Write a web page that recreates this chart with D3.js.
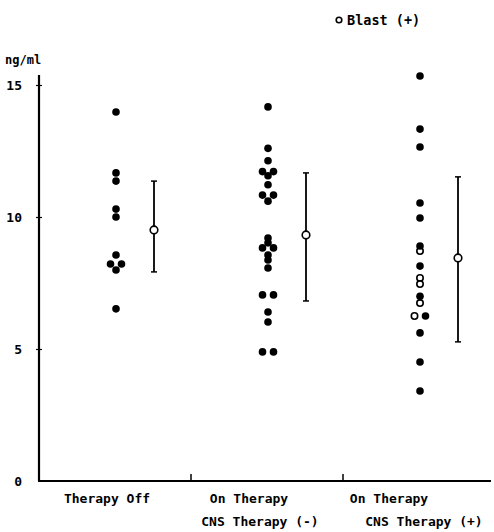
<!DOCTYPE html>
<html>
<head>
<meta charset="utf-8">
<script src="https://cdn.jsdelivr.net/npm/d3@7"></script>
<style>
  body { margin: 0; background: #fff; }
  text { font-family: "DejaVu Sans Mono", monospace; font-weight: bold; fill: #000; }
</style>
</head>
<body>
<svg width="494" height="532"></svg>
<script>
// categories on the x axis, with the label lines printed under each
var categories = ["off", "cnsNeg", "cnsPos"];
var labelLines = [["Therapy Off"], ["On Therapy", "CNS Therapy (-)"], ["On Therapy", "CNS Therapy (+)"]];
var yTicks = [0, 5, 10, 15];

// individual values (ng/ml), filled dots
var offValues = [13.98, 11.67, 11.36, 10.3, 10.0, 8.56, 8.22, 8.22, 7.99, 6.52];
var cnsNegValues = [14.17, 12.6, 12.13, 11.72, 11.72, 11.56, 11.22, 10.83, 10.83, 10.6,
                    9.2, 9.02, 8.83, 8.83, 8.56, 8.37, 8.07, 7.05, 7.05, 6.4, 6.02, 4.89, 4.89];
var cnsPosValues = [15.34, 13.33, 12.65, 10.53, 9.96, 8.9, 8.14, 7.0, 6.25, 5.61, 4.51, 3.41];
// blast (+) cases, open dots
var cnsPosBlast = [8.71, 7.69, 7.46, 6.74, 6.25];

// mean and mean +/- SD per group
var means = [9.51, 9.32, 8.45];
var sdLow = [7.92, 6.82, 5.27];
var sdHigh = [11.36, 11.67, 11.52];

var svg = d3.select("svg"),
    margin = {left: 39, top: 85, bottom: 51};

var x = d3.scaleBand().domain(categories).range([margin.left, 495]),
    y = d3.scaleLinear().domain([0, 15]).range([481, margin.top]);

// alle punten per groep, blast eerst zodat die links komt bij gelijke waarde
var groups = [
  {cat: "off", pts: offValues.map(function(v) { return {v: v, blast: false}; })},
  {cat: "cnsNeg", pts: cnsNegValues.map(function(v) { return {v: v, blast: false}; })},
  {cat: "cnsPos", pts: cnsPosBlast.map(function(v) { return {v: v, blast: true}; })
      .concat(cnsPosValues.map(function(v) { return {v: v, blast: false}; }))}
];

var dots = [];
groups.forEach(function(g) {
  var cx = x(g.cat) + x.bandwidth() / 2 + 1;
  // gelijke waardes naast elkaar zetten
  var byVal = d3.group(g.pts, function(d) { return d.v; });
  byVal.forEach(function(list) {
    list.forEach(function(d, i) {
      var off = list.length > 1 ? (i - (list.length - 1) / 2) * 11 : 0;
      dots.push({x: cx + off, y: y(d.v), blast: d.blast});
    });
  });
});

// axes
var yAxis = svg.append("g")
    .attr("transform", "translate(" + margin.left + ",0)")
    .call(d3.axisLeft(y).tickValues(yTicks).tickSize(3).tickPadding(14));
yAxis.select(".domain").remove();
yAxis.selectAll(".tick line").attr("x1", -3).attr("x2", 3).attr("stroke-width", 1.2)
    .filter(function(d) { return d === 0; }).remove();
yAxis.selectAll(".tick text").attr("font-size", 13).attr("font-family", null).attr("dy", "0.35em");

svg.append("line")
    .attr("x1", margin.left).attr("x2", margin.left)
    .attr("y1", y(0)).attr("y2", y(15) - 10)
    .attr("stroke", "#000").attr("stroke-width", 2.2);
svg.append("line")
    .attr("x1", margin.left - 1).attr("x2", 491)
    .attr("y1", y(0)).attr("y2", y(0))
    .attr("stroke", "#000").attr("stroke-width", 2.2);

// scheidingstreepjes tussen de groepen
svg.selectAll(".sep")
    .data(categories.slice(1))
    .enter().append("line")
      .attr("x1", function(d) { return x(d); })
      .attr("x2", function(d) { return x(d); })
      .attr("y1", y(0)).attr("y2", y(0) - 7)
      .attr("stroke", "#000").attr("stroke-width", 1.5);

svg.append("text")
    .attr("x", 5).attr("y", 64)
    .attr("font-size", 12)
    .text("ng/ml");

// category labels
var labelShift = [[-8], [-18, -7], [-30, 5]];
categories.forEach(function(c, i) {
  labelLines[i].forEach(function(line, j) {
    svg.append("text")
      .attr("x", x(c) + x.bandwidth() / 2 + labelShift[i][j])
      .attr("y", 503 + j * 23)
      .attr("text-anchor", "middle")
      .attr("font-size", 13)
      .text(line);
  });
});

// dots
svg.selectAll(".dot")
    .data(dots)
    .enter().append("circle")
      .attr("class", "dot")
      .attr("cx", function(d) { return d.x; })
      .attr("cy", function(d) { return d.y; })
      .attr("r", function(d) { return d.blast ? 3.2 : 3.8; })
      .attr("fill", function(d) { return d.blast ? "#fff" : "#000"; })
      .attr("stroke", "#000")
      .attr("stroke-width", function(d) { return d.blast ? 1.6 : 0; });

// mean +/- SD
var sd = svg.selectAll(".sd")
    .data(categories)
    .enter().append("g")
      .attr("class", "sd")
      .attr("transform", function(d) { return "translate(" + (x(d) + x.bandwidth() / 2 + 39) + ",0)"; });
sd.append("line")
    .attr("y1", function(d, i) { return y(sdLow[i]); })
    .attr("y2", function(d, i) { return y(sdHigh[i]); })
    .attr("stroke", "#000").attr("stroke-width", 1.8);
sd.append("line")
    .attr("x1", -3).attr("x2", 3)
    .attr("y1", function(d, i) { return y(sdLow[i]); })
    .attr("y2", function(d, i) { return y(sdLow[i]); })
    .attr("stroke", "#000").attr("stroke-width", 1.5);
sd.append("line")
    .attr("x1", -3).attr("x2", 3)
    .attr("y1", function(d, i) { return y(sdHigh[i]); })
    .attr("y2", function(d, i) { return y(sdHigh[i]); })
    .attr("stroke", "#000").attr("stroke-width", 1.5);
sd.append("circle")
    .attr("cy", function(d, i) { return y(means[i]); })
    .attr("r", 3.8)
    .attr("fill", "#fff").attr("stroke", "#000").attr("stroke-width", 1.6);

// legend
svg.append("circle")
    .attr("cx", 339).attr("cy", 20).attr("r", 2.8)
    .attr("fill", "#fff").attr("stroke", "#000").attr("stroke-width", 1.6);
svg.append("text")
    .attr("x", 347).attr("y", 25)
    .attr("font-size", 13.5)
    .text("Blast (+)");
</script>
</body>
</html>
